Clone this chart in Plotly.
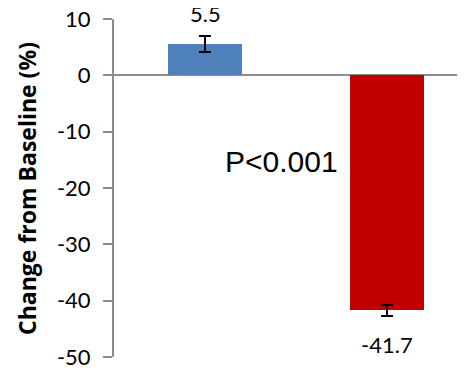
import plotly.graph_objects as go

categories = ["A", "B"]
values = [5.5, -41.7]
errors = [1.4, 1.0]
bar_colors = ["#4F81BD", "#C00000"]
value_labels = ["5.5", "-41.7"]
y_ticks = [10, 0, -10, -20, -30, -40, -50]
p_text = "P<0.001"
y_title = "Change from Baseline (%)"

fig = go.Figure()
fig.add_trace(go.Bar(
    x=categories, y=values,
    marker=dict(color=bar_colors, line=dict(width=0)),
    width=0.41,
    error_y=dict(type="data", array=errors, visible=True, color="black", thickness=2, width=6),
    hoverinfo="skip",
))

# value labels
fig.add_annotation(x=categories[0], y=values[0] + errors[0], text=value_labels[0],
                   showarrow=False, yanchor="bottom", yshift=7,
                   font=dict(family="Lato", size=22, color="black"))
fig.add_annotation(x=categories[1], y=values[1] - errors[1], text=value_labels[1],
                   showarrow=False, yanchor="top", yshift=-13,
                   font=dict(family="Lato", size=22, color="black"))
fig.add_annotation(x=0.42, y=-15.3, xref="x", yref="y", text=p_text, showarrow=False,
                   font=dict(family="Liberation Sans", size=30, color="black"))
# y-axis title
fig.add_annotation(x=-0.248, y=0.5, xref="paper", yref="paper", text="<b>" + y_title + "</b>",
                   textangle=-90, showarrow=False, xanchor="center", yanchor="middle",
                   font=dict(family="Open Sans", size=23, color="black"))

fig.update_layout(
    width=457, height=360,
    margin=dict(l=106, r=0, t=11, b=11, autoexpand=False),
    paper_bgcolor="white", plot_bgcolor="white",
    showlegend=False,
    bargap=0,
    xaxis=dict(type="category", range=[-0.5, 1.4286], showticklabels=False,
               showgrid=False, zeroline=False, showline=False, ticks="", automargin=False),
    yaxis=dict(range=[-50, 10], tickvals=y_ticks, ticktext=[str(v) for v in y_ticks],
               automargin=False, ticklabeloverflow="allow",
               showgrid=False, zeroline=True, zerolinecolor="#8C8C8C", zerolinewidth=2,
               showline=True, linecolor="#8C8C8C", linewidth=2,
               ticks="outside", ticklen=9, tickwidth=2, tickcolor="#8C8C8C",
               tickfont=dict(family="Lato", size=22, color="black"),
               ticklabelstandoff=8),
)

fig.write_html("out.html")
